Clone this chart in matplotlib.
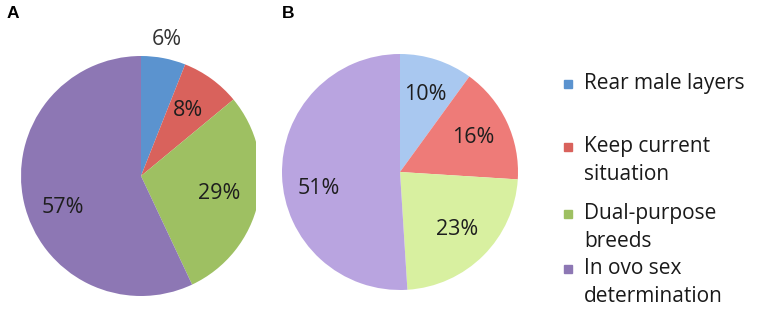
import matplotlib.pyplot as plt
import numpy as np
from matplotlib.patches import Rectangle

# data
categories = ['Rear male layers', 'Keep current\nsituation',
              'Dual-purpose\nbreeds', 'In ovo sex\ndetermination']
values_a = [6, 8, 29, 57]
values_b = [10, 16, 23, 51]

colors_a = ['#5b93cf', '#d9625c', '#9ec062', '#8d77b4']
colors_b = ['#a9c8f0', '#ee7b78', '#d8f0a0', '#b9a4e0']

plt.rcParams['font.family'] = ['Open Sans', 'DejaVu Sans']

W, H = 765, 327
fig = plt.figure(figsize=(W / 100, H / 100), dpi=100)


def px_axes(left, top, width, height):
    # axes placed in pixel coords (top-left origin)
    return fig.add_axes([left / W, 1 - (top + height) / H, width / W, height / H])


def draw_pie(ax, values, colors, pctdist):
    wedges, texts, autotexts = ax.pie(
        values, colors=colors, startangle=90, counterclock=False,
        autopct='%d%%', pctdistance=pctdist,
        textprops=dict(fontsize=15.5, color='#1e1e1e'))
    for w in wedges:
        w.set_clip_on(True)
    # big slice label sits a bit lower, as in the original
    x, y = autotexts[-1].get_position()
    autotexts[-1].set_position((x, y - 0.12))
    return wedges, autotexts


# pie A (slightly clipped on the right)
r = 120
ax_a = px_axes(21, 56, 235, 2 * r)
wa, ta = draw_pie(ax_a, values_a, colors_a, 0.67)
ax_a.set_xlim(-1, 115 / r)
ax_a.set_ylim(-1, 1)
ax_a.set_aspect('auto')
# small slice label sits outside
w = wa[0]
ang = np.deg2rad((w.theta1 + w.theta2) / 2)
ta[0].set_position((1.16 * np.cos(ang), 1.16 * np.sin(ang)))
ta[0].set_color('#333333')

# pie B
r = 118
ax_b = px_axes(282, 54, 2 * r, 2 * r)
draw_pie(ax_b, values_b, colors_b, 0.69)
ax_b.set_xlim(-1, 1)
ax_b.set_ylim(-1, 1)
ax_b.set_aspect('auto')

# panel letters
fig.text(7 / W, 1 - 13 / H, 'A', fontsize=12.5, fontweight='bold',
         family='Liberation Sans', va='center')
fig.text(282 / W, 1 - 13 / H, 'B', fontsize=12.5, fontweight='bold',
         family='Liberation Sans', va='center')

# legend
leg_y = [85, 148, 215, 270]
for lab, col, y in zip(categories, colors_a, leg_y):
    fig.patches.append(Rectangle((564 / W, 1 - (y + 3) / H), 8 / W, 8 / H,
                                 transform=fig.transFigure, color=col))
    fig.text(584 / W, 1 - (y - 12) / H, lab, fontsize=15, color='#1a1a1a',
             va='top', ha='left', linespacing=1.42,
             transform=fig.transFigure)

fig.savefig('out.png', dpi=100)
